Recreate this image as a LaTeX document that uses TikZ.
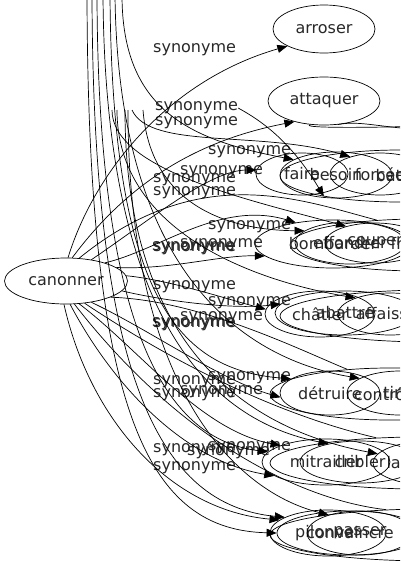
\documentclass[tikz,border=0pt]{standalone}
\usepackage{fontspec}
\usetikzlibrary{shapes.geometric, arrows.meta}
\newfontfamily\dejavu{DejaVu Sans}
\definecolor{txtgray}{RGB}{40,40,40}

\begin{document}
\begin{tikzpicture}[
    x=1pt, y=-1pt,
    word/.style={ellipse, draw, line width=0.7pt, inner sep=0pt, font=\dejavu\fontsize{16}{19}\selectfont, text=txtgray},
    lab/.style={anchor=west, inner sep=0pt, font=\dejavu\fontsize{16}{19}\selectfont, text=txtgray},
    syn/.style={-{Triangle[length=10pt, width=8pt]}, line width=0.7pt},
    free/.style={line width=0.7pt}
]
\useasboundingbox (0,0) rectangle (400,563);
\clip (0,0) rectangle (400,563);

\node[word, minimum width=123pt, minimum height=46pt] (canonner) at (66,281) {canonner};
\node[word, minimum width=102pt, minimum height=48pt] (arroser) at (324,29) {arroser};
\node[word, minimum width=112pt, minimum height=48pt] (attaquer) at (324,101) {attaquer};

% rangee A
\node[word, minimum width=240pt, minimum height=52pt] (battre) at (400,176) {battre};
\node[word, minimum width=92pt, minimum height=42pt] (faire) at (302,174) {faire};
\node[word, minimum width=112pt, minimum height=46pt] (besoin) at (336,175) {besoin};
\node[word, minimum width=100pt, minimum height=42pt] (forcee) at (380,174) {forcée};

% rangee B
\node[word, minimum width=260pt, minimum height=52pt] (frapper) at (420,245) {frapper};
\node[word, minimum width=156pt, minimum height=48pt] (bombarder) at (333,244) {bombarder};
\node[word, minimum width=110pt, minimum height=42pt] (effondrer) at (350,243) {effondrer};
\node[word, minimum width=100pt, minimum height=40pt] (couper) at (375,243) {couper};

% rangee C
\node[word, minimum width=300pt, minimum height=52pt] (blesser) at (430,316) {blesser};
\node[word, minimum width=110pt, minimum height=46pt] (chatier) at (320,314) {châtier};
\node[word, minimum width=140pt, minimum height=44pt] (abattre) at (345,313) {abattre};
\node[word, minimum width=104pt, minimum height=42pt] (affaisser) at (390,314) {affaisser};

% rangee D
\node[word, minimum width=240pt, minimum height=52pt] (controler) at (390,394) {contrôler};
\node[word, minimum width=100pt, minimum height=44pt] (detruire) at (330,393) {détruire};
\node[word, minimum width=106pt, minimum height=44pt] (tirer) at (400,393) {tirer};

% rangee E
\node[word, minimum width=300pt, minimum height=52pt] (labourer) at (420,463) {labourer};
\node[word, minimum width=128pt, minimum height=46pt] (mitrailler) at (326,462) {mitrailler};
\node[word, minimum width=120pt, minimum height=42pt] (cribler) at (360,462) {cribler};
\node[word, minimum width=114pt, minimum height=44pt] (sauter) at (430,463) {sauter};

% rangee F
\node[word, minimum width=320pt, minimum height=52pt] (salve) at (430,535) {salve};
\node[word, minimum width=116pt, minimum height=46pt] (pilonner) at (328,533) {pilonner};
\node[word, minimum width=146pt, minimum height=44pt] (convaincre) at (350,533) {convaincre};
\node[word, minimum width=106pt, minimum height=44pt] (passer) at (360,533) {passer};

% bouts libres
\coordinate (t1) at (87,-5);
\coordinate (t2) at (92,-5);
\coordinate (t3) at (97,-5);
\coordinate (t4) at (103,-5);
\coordinate (t5) at (110,-5);
\coordinate (t6) at (115,-5);
\coordinate (t7) at (122,-5);
\coordinate (s1) at (112,110);
\coordinate (s2) at (117,110);
\coordinate (s3) at (125,110);
\coordinate (s4) at (128,110);
\coordinate (s5) at (132,110);
\coordinate (s6) at (143,110);
\coordinate (rA) at (430,126);
\coordinate (rB) at (430,130);

% labels
\node[lab] (l1) at (153,50) {synonyme};
\node[lab] (l2) at (155,108) {synonyme};
\node[lab] (l3) at (155,123) {synonyme};
\node[lab] (l4) at (208,152) {synonyme};
\node[lab] (l5) at (180,172) {synonyme};
\node[lab] (l6) at (153,180) {synonyme};
\node[lab] (l7) at (153,193) {synonyme};
\node[lab] (l8) at (208,227) {synonyme};
\node[lab] (l9) at (180,245) {synonyme};
\node[lab] (l10) at (152,248) {synonyme};
\node[lab] (l11) at (153,249) {synonyme};
\node[lab] (l12) at (153,287) {synonyme};
\node[lab] (l13) at (208,303) {synonyme};
\node[lab] (l14) at (180,318) {synonyme};
\node[lab] (l15) at (152,324) {synonyme};
\node[lab] (l16) at (153,325) {synonyme};
\node[lab] (l17) at (153,382) {synonyme};
\node[lab] (l18) at (208,378) {synonyme};
\node[lab] (l19) at (180,392) {synonyme};
\node[lab] (l20) at (153,395) {synonyme};
\node[lab] (l21) at (153,450) {synonyme};
\node[lab] (l22) at (208,448) {synonyme};
\node[lab] (l23) at (187,453) {synonyme};
\node[lab] (l24) at (153,468) {synonyme};

% depuis canonner
\draw[syn] (canonner.85) .. controls (95,170) and (170,80) .. (arroser.205);
\draw[syn] (canonner.75) .. controls (130,180) and (200,140) .. (attaquer.215);
\draw[syn] (canonner.40) .. controls (150,220) and (210,170) .. (faire.175);
\draw[syn] (canonner.25) .. controls (160,250) and (220,200) .. (bombarder.150);
\draw[syn] (canonner.15) .. controls (170,270) and (220,255) .. (bombarder.190);
\draw[syn] (canonner.5) .. controls (170,280) and (230,300) .. (chatier.175);
\draw[syn] (canonner.-10) .. controls (160,300) and (230,310) .. (abattre.172);
\draw[syn] (canonner.-40) .. controls (150,330) and (220,380) .. (detruire.185);
\draw[syn] (canonner.-60) .. controls (140,350) and (200,430) .. (mitrailler.160);
\draw[syn] (canonner.-80) .. controls (110,380) and (180,460) .. (mitrailler.195);
\draw[syn] (canonner.-95) .. controls (90,420) and (170,510) .. (pilonner.165);

% depuis le haut
\draw[syn] (t1) .. controls (88,420) and (150,530) .. (convaincre.180);
\draw[syn] (t2) .. controls (93,380) and (160,505) .. (pilonner.160);
\draw[syn] (t3) .. controls (98,340) and (170,440) .. (mitrailler.170);
\draw[syn] (t4) .. controls (105,320) and (210,420) .. (cribler.150);
\draw[syn] (t5) .. controls (112,300) and (180,370) .. (detruire.160);
\draw[syn] (t6) .. controls (118,280) and (250,360) .. (tirer.160);
\draw[syn] (t7) .. controls (122,110) and (190,140) .. (besoin.160);
\draw[syn] (s1) .. controls (112,170) and (250,200) .. (couper.150);
\draw[syn] (s2) .. controls (117,230) and (250,280) .. (affaisser.155);
\draw[syn] (s3) .. controls (125,350) and (250,430) .. (sauter.170);
\draw[syn] (s4) .. controls (128,380) and (230,490) .. (passer.150);
\draw[syn] (s5) .. controls (150,150) and (260,130) .. (forcee.150);
\draw[syn] (s6) .. controls (150,200) and (220,230) .. (effondrer.165);
\draw[syn] (l2.east) .. controls (260,120) and (290,140) .. (battre.195);

% vers la droite
\draw[free] (attaquer.240) .. controls (300,128) and (360,128) .. (rA);
\draw[free] (attaquer.300) .. controls (360,120) and (380,128) .. (rB);
\draw[free] (canonner.60) .. controls (200,160) and (300,200) .. (frapper.150);
\draw[free] (canonner.-20) .. controls (200,300) and (300,350) .. (controler.150);
\draw[free] (canonner.-50) .. controls (200,380) and (300,420) .. (labourer.150);
\draw[free] (canonner.-70) .. controls (180,440) and (300,500) .. (salve.150);
\end{tikzpicture}
\end{document}
